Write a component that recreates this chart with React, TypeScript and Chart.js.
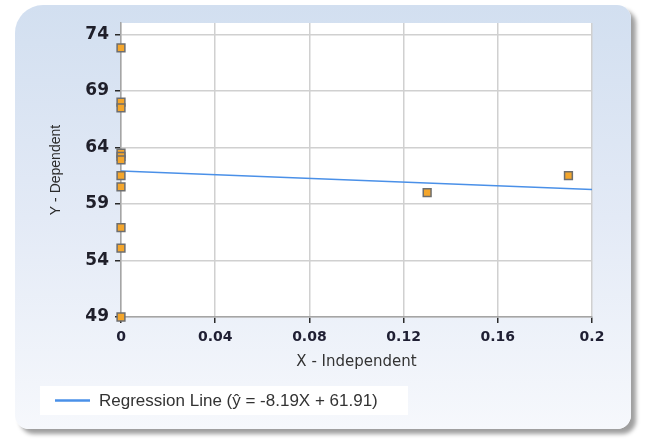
import { useEffect, useRef } from "react";
import { Chart, registerables } from "chart.js";

Chart.register(...registerables);

// Observations
const independentX = [0, 0, 0, 0, 0, 0, 0, 0, 0, 0, 0, 0.13, 0.19];
const dependentY = [72.8, 68.0, 67.5, 63.5, 63.2, 62.9, 61.5, 60.5, 56.9, 55.1, 49.0, 60.0, 61.5];

// Fitted regression line: y = slope * x + intercept
const slope = -8.19;
const intercept = 61.91;
const lineX = [0, 0.2];

// Axes
const xTicks = [0, 0.04, 0.08, 0.12, 0.16, 0.2];
const yTicks = [49, 54, 59, 64, 69, 74];
const xMin = 0;
const xMax = 0.2;
const yMin = 49;
const yMax = 75;

const lineLabel = `Regression Line (ŷ = ${slope.toFixed(2)}X + ${intercept.toFixed(2)})`;
const lineColor = "#4a90e8";

const plotBackground = {
  id: "plotBackground",
  beforeDraw(chart: any) {
    const { ctx, chartArea } = chart;
    ctx.save();
    ctx.fillStyle = "#ffffff";
    ctx.fillRect(chartArea.left, chartArea.top, chartArea.right - chartArea.left, chartArea.bottom - chartArea.top);
    ctx.restore();
  },
};

const boxedLegend = {
  id: "boxedLegend",
  afterDraw(chart: any) {
    const { ctx } = chart;
    const ds = chart.data.datasets[1];
    ctx.save();
    ctx.fillStyle = "#ffffff";
    ctx.fillRect(40, 386, 368, 29);
    ctx.strokeStyle = ds.borderColor;
    ctx.lineWidth = 2.5;
    ctx.beginPath();
    ctx.moveTo(55, 400.5);
    ctx.lineTo(90, 400.5);
    ctx.stroke();
    ctx.fillStyle = "#333333";
    ctx.font = '17px "Liberation Sans"';
    ctx.textBaseline = "middle";
    ctx.textAlign = "left";
    ctx.fillText(ds.label, 99, 401);
    ctx.restore();
  },
};

export default function App() {
  const canvasRef = useRef<HTMLCanvasElement | null>(null);

  useEffect(() => {
    if (!canvasRef.current) return;
    const points = independentX.map((x, i) => ({ x, y: dependentY[i] }));
    const fitted = lineX.map((x) => ({ x, y: slope * x + intercept }));

    const chart = new Chart(canvasRef.current, {
      type: "scatter",
      data: {
        datasets: [
          {
            label: "Observations",
            data: points,
            pointStyle: "rect",
            pointRadius: 5.5,
            pointBackgroundColor: "#f4a62c",
            pointBorderColor: "#6e6e6e",
            pointBorderWidth: 1.5,
            showLine: false,
            clip: false,
          },
          {
            label: lineLabel,
            data: fitted,
            showLine: true,
            borderColor: lineColor,
            borderWidth: 1.5,
            pointRadius: 0,
            fill: false,
          },
        ],
      },
      options: {
        responsive: false,
        animation: false,
        events: [],
        layout: { padding: { left: 40, top: 23, right: 56, bottom: 62 } },
        plugins: {
          legend: { display: false },
          tooltip: { enabled: false },
        },
        scales: {
          x: {
            type: "linear",
            min: xMin,
            max: xMax,
            afterBuildTicks: (scale: any) => {
              scale.ticks = xTicks.map((v) => ({ value: v }));
            },
            afterFit: (scale: any) => {
              scale.height = 60;
            },
            ticks: {
              callback: (v: any) => String(v),
              color: "#1f1f33",
              font: { family: "DejaVu Sans", size: 14, weight: "bold" },
              padding: 6,
              maxRotation: 0,
            },
            grid: {
              color: "#d0d0d0",
              lineWidth: 1.5,
              tickColor: "#2a2a2a",
              tickLength: 6,
              tickWidth: 1.5,
            },
            border: { display: true, color: "#a5a5a5", width: 1.5 },
            title: {
              display: true,
              text: "X - Independent",
              color: "#333333",
              font: { family: "DejaVu Sans", size: 15 },
              padding: { top: 0, bottom: 6 },
            },
          },
          y: {
            type: "linear",
            min: yMin,
            max: yMax,
            afterBuildTicks: (scale: any) => {
              scale.ticks = yTicks.map((v) => ({ value: v }));
            },
            afterFit: (scale: any) => {
              scale.width = 81;
            },
            ticks: {
              callback: (v: any) => String(v),
              color: "#1f1f2a",
              font: { family: "DejaVu Sans", size: 17, weight: "bold" },
              padding: 6,
            },
            grid: {
              color: "#d0d0d0",
              lineWidth: 1.5,
              tickColor: "#2a2a2a",
              tickLength: 6,
              tickWidth: 1.5,
            },
            border: { display: true, color: "#a5a5a5", width: 1.5 },
            title: {
              display: true,
              text: "Y - Dependent",
              color: "#2a2a2a",
              font: { family: "Liberation Sans", size: 14 },
              padding: { top: 8, bottom: 0 },
            },
          },
        },
      },
      plugins: [plotBackground, boxedLegend],
    } as any);

    return () => chart.destroy();
  }, []);

  return (
    <div style={{ position: "fixed", left: 0, top: 0, width: 648, height: 439, background: "#ffffff", overflow: "hidden" }}>
      <div
        style={{
          position: "absolute",
          left: 15,
          top: 5,
          width: 616,
          height: 424,
          borderRadius: "28px 14px 14px 14px",
          background: "linear-gradient(180deg, #d2dff0 0%, #e3eaf6 50%, #f6f8fc 100%)",
          boxShadow: "5px 5px 4px rgba(0,0,0,0.38)",
        }}
      />
      <canvas ref={canvasRef} width={648} height={439} style={{ position: "absolute", left: 0, top: 0, width: 648, height: 439 }} />
    </div>
  );
}
